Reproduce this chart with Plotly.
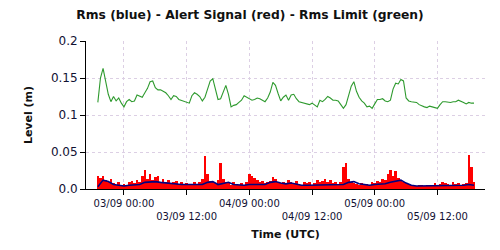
import pandas as pd
import plotly.graph_objects as go

# ---- data ----
start_time = "2023-09-02 19:00"

rms_limit_green = [
    0.117, 0.150, 0.163, 0.146, 0.128, 0.118, 0.125, 0.119, 0.123, 0.116,
    0.111, 0.118, 0.121, 0.118, 0.119, 0.127, 0.126, 0.124, 0.130, 0.136,
    0.145, 0.146, 0.137, 0.134, 0.134, 0.132, 0.130, 0.126, 0.121, 0.126,
    0.125, 0.121, 0.120, 0.119, 0.118, 0.116, 0.126, 0.130, 0.128, 0.125,
    0.119, 0.124, 0.135, 0.146, 0.149, 0.133, 0.121, 0.122, 0.130, 0.140,
    0.128, 0.111, 0.113, 0.114, 0.117, 0.120, 0.126, 0.124, 0.122, 0.120,
    0.121, 0.123, 0.122, 0.120, 0.118, 0.123, 0.131, 0.144, 0.140, 0.129,
    0.119, 0.124, 0.127, 0.120, 0.127, 0.128, 0.122, 0.118, 0.117, 0.116,
    0.116, 0.114, 0.116, 0.114, 0.111, 0.120, 0.118, 0.121, 0.125, 0.123,
    0.120, 0.120, 0.119, 0.114, 0.109, 0.114, 0.125, 0.139, 0.145, 0.132,
    0.124, 0.119, 0.116, 0.111, 0.112, 0.109, 0.115, 0.121, 0.121, 0.122,
    0.119, 0.118, 0.120, 0.135, 0.143, 0.142, 0.148, 0.146, 0.123, 0.119,
    0.118, 0.117, 0.117, 0.114, 0.112, 0.111, 0.110, 0.112, 0.111, 0.110,
    0.109, 0.114, 0.118, 0.118, 0.117, 0.117, 0.118, 0.118, 0.120, 0.119,
    0.117, 0.115, 0.117, 0.116, 0.116,
]

alert_signal_red = [
    0.017, 0.015, 0.018, 0.012, 0.010, 0.014, 0.008, 0.006, 0.010, 0.005,
    0.007, 0.004, 0.009, 0.011, 0.008, 0.012, 0.010, 0.018, 0.026, 0.014,
    0.020, 0.012, 0.016, 0.017, 0.010, 0.014, 0.009, 0.012, 0.008, 0.010,
    0.011, 0.007, 0.009, 0.006, 0.008, 0.005, 0.007, 0.009, 0.006, 0.010,
    0.014, 0.045, 0.020, 0.011, 0.009, 0.008, 0.012, 0.035, 0.014, 0.010,
    0.008, 0.006, 0.009, 0.007, 0.005, 0.008, 0.006, 0.009, 0.020, 0.018,
    0.015, 0.012, 0.010, 0.011, 0.008, 0.010, 0.011, 0.016, 0.013, 0.009,
    0.008, 0.010, 0.007, 0.012, 0.010, 0.008, 0.011, 0.007, 0.006, 0.009,
    0.008, 0.010, 0.006, 0.008, 0.012, 0.009, 0.011, 0.013, 0.010, 0.012,
    0.008, 0.010, 0.007, 0.009, 0.030, 0.035, 0.014, 0.010, 0.008, 0.007,
    0.006, 0.008, 0.005, 0.007, 0.006, 0.009, 0.008, 0.011, 0.010, 0.014,
    0.012, 0.020, 0.026, 0.017, 0.025, 0.015, 0.012, 0.010, 0.008, 0.007,
    0.006, 0.005, 0.004, 0.005, 0.006, 0.004, 0.005, 0.006, 0.005, 0.008,
    0.006, 0.007, 0.009, 0.008, 0.007, 0.006, 0.009, 0.007, 0.008, 0.006,
    0.007, 0.008, 0.046, 0.030, 0.010,
]

rms_blue = [
    0.003, 0.012, 0.010, 0.006, 0.005, 0.004, 0.005, 0.005, 0.006, 0.009,
    0.010, 0.010, 0.009, 0.008, 0.007, 0.007, 0.006, 0.006, 0.006, 0.005,
    0.006, 0.009, 0.010, 0.006, 0.008, 0.009, 0.006, 0.005, 0.005, 0.006,
    0.006, 0.005, 0.006, 0.009, 0.010, 0.008, 0.007, 0.008, 0.006, 0.005,
    0.005, 0.005, 0.005, 0.006, 0.006, 0.005, 0.005, 0.006, 0.009, 0.010,
    0.007, 0.006, 0.005, 0.006, 0.006, 0.007, 0.009, 0.010, 0.012, 0.008,
    0.005, 0.004, 0.004, 0.004, 0.004, 0.004, 0.005, 0.005, 0.005, 0.005,
    0.005, 0.006, 0.005,
]

x_tick_times = ["2023-09-03 00:00", "2023-09-03 12:00", "2023-09-04 00:00",
                "2023-09-04 12:00", "2023-09-05 00:00", "2023-09-05 12:00"]
x_tick_labels = ["03/09 00:00", "<br>03/09 12:00", "04/09 00:00",
                 "<br>04/09 12:00", "05/09 00:00", "<br>05/09 12:00"]
y_tick_vals = [0.0, 0.05, 0.1, 0.15, 0.2]
y_tick_labels = ["0.0", "0.05", "0.1", "0.15", "0.2"]
x_range = ["2023-09-02 16:44", "2023-09-05 21:06"]

t_half = pd.date_range(start_time, periods=len(rms_limit_green), freq="30min")
t_red = pd.date_range(start_time, periods=len(alert_signal_red), freq="30min")
t_hour = pd.date_range(start_time, periods=len(rms_blue), freq="60min")

FONT = "DejaVu Sans"
GRID = "#dccfe4"

fig = go.Figure()
fig.add_trace(go.Bar(x=t_red, y=alert_signal_red, marker=dict(color="#ff0000", line=dict(width=0)),
                     hoverinfo="skip"))
fig.add_trace(go.Scatter(x=t_hour, y=rms_blue, mode="lines",
                         line=dict(color="#000080", width=1.6), hoverinfo="skip"))
fig.add_trace(go.Scatter(x=t_half, y=rms_limit_green, mode="lines",
                         line=dict(color="#2e9a2e", width=1.1), hoverinfo="skip"))

fig.update_layout(
    width=500, height=250,
    margin=dict(l=86, r=15, t=41, b=61),
    paper_bgcolor="white", plot_bgcolor="white",
    showlegend=False, bargap=0,
    title=dict(text="<b>Rms (blue) - Alert Signal (red) - Rms Limit (green)</b>",
               x=0.5, xanchor="center", y=0.94, yanchor="middle",
               font=dict(family=FONT, size=12.3, color="#111111")),
    font=dict(family=FONT, color="#111111"),
)
fig.update_xaxes(
    type="date", range=x_range,
    tickvals=x_tick_times, ticktext=x_tick_labels, tickangle=0,
    tickfont=dict(family=FONT, size=10, color="#111133"),
    ticks="outside", ticklen=5, tickcolor="black", tickwidth=1,
    showline=True, linecolor="black", linewidth=1,
    showgrid=True, gridcolor=GRID, griddash="dot", gridwidth=1,
    zeroline=False, automargin=False,
    title=dict(text="<b>Time (UTC)</b>", font=dict(family=FONT, size=11), standoff=9),
)
fig.update_yaxes(
    range=[0, 0.2], tickvals=y_tick_vals, ticktext=y_tick_labels,
    tickfont=dict(family=FONT, size=12, color="#111133"),
    ticks="outside", ticklen=5, tickcolor="black", tickwidth=1,
    showline=True, linecolor="black", linewidth=1,
    showgrid=True, gridcolor=GRID, griddash="dot", gridwidth=1,
    zeroline=False, automargin=False,
    title=dict(text="<b>Level (m)</b>", font=dict(family=FONT, size=11), standoff=16),
)

fig.write_html("out.html")
